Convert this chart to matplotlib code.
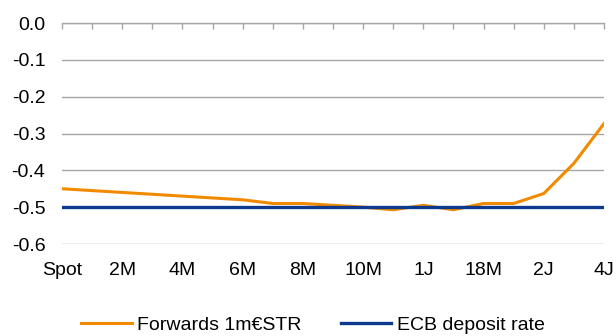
import matplotlib

matplotlib.use("Agg")

import matplotlib.pyplot as plt

plt.rcParams["font.family"] = ["Liberation Sans", "DejaVu Sans"]
plt.rcParams["font.size"] = 14

# Tenor buckets along the forward curve
tenors = ["Spot", "1M", "2M", "3M", "4M", "5M", "6M", "7M", "8M", "9M",
          "10M", "11M", "1J", "15M", "18M", "21M", "2J", "3J", "4J"]
labelled = {"Spot", "2M", "4M", "6M", "8M", "10M", "1J", "18M", "2J", "4J"}

# 1m €STR forwards (%)
forwards = [-0.450, -0.455, -0.460, -0.465, -0.470, -0.475, -0.480, -0.490,
            -0.490, -0.495, -0.500, -0.507, -0.495, -0.507, -0.490, -0.490,
            -0.463, -0.381, -0.273]
# ECB deposit facility rate (%)
deposit_rate = [-0.50] * len(tenors)

ORANGE = "#F28A00"
BLUE = "#0D3A8C"
GRID = "#A6A6A6"

fig = plt.figure(figsize=(6.16, 3.36), dpi=100)
ax = fig.add_axes([62 / 616, 92 / 336, 542 / 616, 221 / 336])

x = list(range(len(tenors)))
ax.plot(x, forwards, color=ORANGE, lw=2.2, label="Forwards 1m€STR", zorder=3)
ax.plot(x, deposit_rate, color=BLUE, lw=2.4, label="ECB deposit rate", zorder=4)

ax.set_xlim(0, len(tenors) - 1)
ax.set_ylim(-0.6, 0.0)
ax.set_yticks([0.0, -0.1, -0.2, -0.3, -0.4, -0.5, -0.6])
ax.set_yticklabels(["0.0", "-0.1", "-0.2", "-0.3", "-0.4", "-0.5", "-0.6"])
ax.set_xticks(x)
ax.set_xticklabels([t if t in labelled else "" for t in tenors])

ax.grid(axis="y", color=GRID, lw=1.0)
ax.set_axisbelow(True)
for side in ("left", "right", "bottom"):
    ax.spines[side].set_visible(False)
ax.spines["top"].set_color(GRID)
ax.spines["top"].set_linewidth(1.0)

ax.tick_params(axis="y", length=0, pad=12)
ax.tick_params(axis="x", top=True, bottom=False, labeltop=False, labelbottom=True,
               direction="in", length=4, color=GRID, width=1.0, pad=13)

fig.legend(loc="center", bbox_to_anchor=(313 / 616, 1 - 325 / 336), ncol=2,
           frameon=False, handlelength=2.6, handletextpad=0.3, columnspacing=2.0,
           borderaxespad=0, borderpad=0)

fig.savefig("out.png", dpi=100)
